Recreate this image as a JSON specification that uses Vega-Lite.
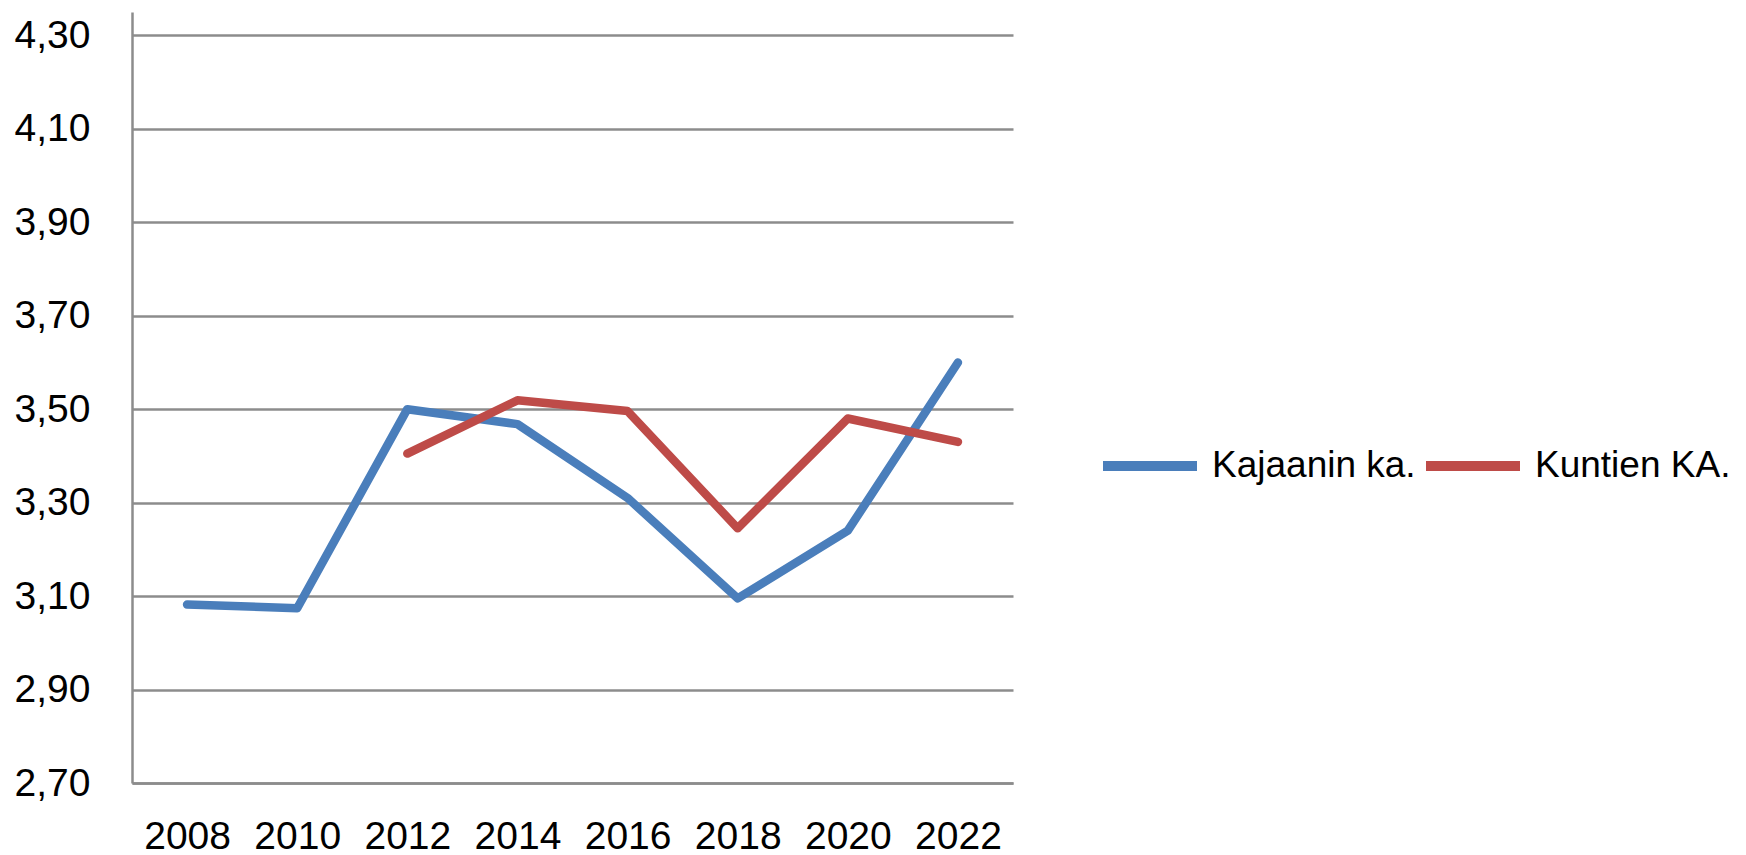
{
  "$schema": "https://vega.github.io/schema/vega-lite/v6.json",
  "width": 881,
  "height": 771,
  "padding": {"left": 14, "top": 12, "right": 0, "bottom": 0},
  "background": "white",
  "config": {"view": {"stroke": null}, "font": "Liberation Sans"},
  "data": {"values": [
    {"year": "2008", "series": "Kajaanin ka.", "value": 3.082},
    {"year": "2010", "series": "Kajaanin ka.", "value": 3.074},
    {"year": "2012", "series": "Kajaanin ka.", "value": 3.50},
    {"year": "2014", "series": "Kajaanin ka.", "value": 3.468},
    {"year": "2016", "series": "Kajaanin ka.", "value": 3.31},
    {"year": "2018", "series": "Kajaanin ka.", "value": 3.095},
    {"year": "2020", "series": "Kajaanin ka.", "value": 3.24},
    {"year": "2022", "series": "Kajaanin ka.", "value": 3.60},
    {"year": "2012", "series": "Kuntien KA.", "value": 3.405},
    {"year": "2014", "series": "Kuntien KA.", "value": 3.519},
    {"year": "2016", "series": "Kuntien KA.", "value": 3.496},
    {"year": "2018", "series": "Kuntien KA.", "value": 3.245},
    {"year": "2020", "series": "Kuntien KA.", "value": 3.48},
    {"year": "2022", "series": "Kuntien KA.", "value": 3.43}
  ]},
  "mark": {"type": "line", "strokeWidth": 8.5, "strokeCap": "round", "strokeJoin": "round"},
  "encoding": {
    "x": {
      "field": "year", "type": "ordinal",
      "scale": {"domain": ["2008","2010","2012","2014","2016","2018","2020","2022"], "padding": 0.5},
      "axis": {
        "title": null, "labelAngle": 0, "ticks": false, "grid": false,
        "domainColor": "#8c8c8c", "domainWidth": 2.5,
        "labelFontSize": 39, "labelColor": "#000000", "labelPadding": 34
      }
    },
    "y": {
      "field": "value", "type": "quantitative",
      "scale": {"domain": [2.7, 4.35], "nice": false, "zero": false},
      "axis": {
        "title": null, "values": [2.7, 2.9, 3.1, 3.3, 3.5, 3.7, 3.9, 4.1, 4.3],
        "labelExpr": "replace(format(datum.value, '.2f'), '.', ',')",
        "ticks": false, "grid": true, "gridColor": "#8c8c8c", "gridWidth": 2.5,
        "domainColor": "#8c8c8c", "domainWidth": 2.5,
        "labelFontSize": 39, "labelColor": "#000000", "labelPadding": 42
      }
    },
    "color": {
      "field": "series", "type": "nominal",
      "scale": {"domain": ["Kajaanin ka.", "Kuntien KA."], "range": ["#4A7EBB", "#BE4B48"]},
      "legend": {
        "title": null, "orient": "none", "direction": "horizontal",
        "legendX": 966, "legendY": 402,
        "symbolType": "stroke", "symbolSize": 8836, "symbolStrokeWidth": 10,
        "labelFontSize": 37, "labelColor": "#000000", "labelOffset": 10,
        "labelLimit": 600, "columnPadding": -10
      }
    }
  }
}
